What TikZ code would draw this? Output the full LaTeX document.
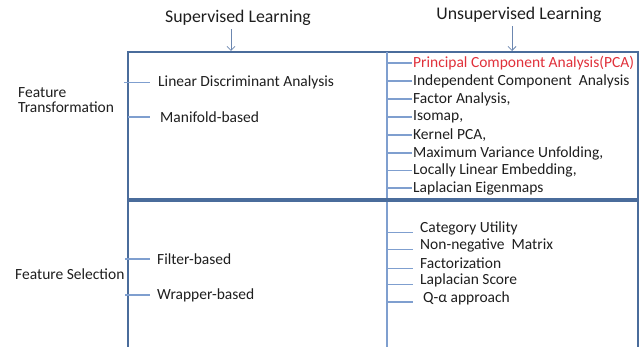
\documentclass[tikz,border=0pt]{standalone}
\usepackage{fontspec}
\setmainfont{Carlito}
\usetikzlibrary{positioning,arrows.meta}

\definecolor{frameblue}{HTML}{4A6C9B}
\definecolor{tickblue}{HTML}{7F9FCF}
\definecolor{itemred}{HTML}{E0303A}
\definecolor{itemgray}{HTML}{1E1E1E}

\begin{document}
\begin{tikzpicture}[
    x=1pt, y=-1pt,
    heading/.style={font=\fontsize{17.8}{20}\selectfont, text=itemgray},
    item/.style={anchor=west, inner sep=0pt, font=\fontsize{15.5}{15}\selectfont, text=itemgray},
    frame/.style={draw=frameblue, line width=2pt},
    divider/.style={draw=frameblue, line width=3.5pt},
    column/.style={draw=tickblue, line width=1.5pt},
    tick/.style={draw=tickblue, line width=1.3pt},
    arrow/.style={draw=tickblue!85!black, line width=0.8pt, -{Straight Barb[length=4pt,width=8pt]}}
]
\useasboundingbox (0,0) rectangle (640,347);

% Column headings
\node[heading] (sup) at (238,18) {Supervised Learning};
\node[heading] (unsup) at (519,15) {Unsupervised Learning};

% Frame and dividers
\coordinate (lcol) at (128,52);
\coordinate (rcol) at (387,52);
\coordinate (rframe) at (638,52);
\draw[frame] (128,347) -- (lcol) -- (rframe) -- (638,347);
\draw[column] (rcol) -- (387,347);
\draw[divider] (lcol |- 0,200) -- (rframe |- 0,200);

% Heading arrows
\coordinate (suptip) at (231,51);
\coordinate (unsuptip) at (512,51);
\draw[arrow] (sup.south -| suptip) -- (suptip);
\draw[arrow] (unsup.south -| unsuptip) -- (unsuptip);

% Row labels
\node[item, align=left] (ftrans) at (18,100.5) {Feature\\Transformation};
\node[item] (fsel) at (15,274) {Feature Selection};

% Supervised, transformation
\node[item] (lda) at (158,82.5) {Linear Discriminant Analysis};
\node[item] (manifold) at (160,117) {Manifold-based};

% Unsupervised, transformation
\node[item, text=itemred] (pca) at (413,63) {Principal Component Analysis(PCA)};
\node[item] (ica) at (413,81) {Independent Component\ \ Analysis};
\node[item] (fa) at (413,99) {Factor Analysis,};
\node[item] (isomap) at (413,117) {Isomap,};
\node[item] (kpca) at (413,135) {Kernel PCA,};
\node[item] (mvu) at (413,153) {Maximum Variance Unfolding,};
\node[item] (lle) at (413,170.5) {Locally Linear Embedding,};
\node[item] (lapeig) at (413,188) {Laplacian Eigenmaps};

% Supervised, selection
\node[item] (filter) at (157,259) {Filter-based};
\node[item] (wrapper) at (157,295) {Wrapper-based};

% Unsupervised, selection
\node[item] (cu) at (420,228.5) {Category Utility};
\node[item] (nmf) at (420,245.5) {Non-negative\ \ Matrix};
\node[item] (factor) at (420,263) {Factorization};
\node[item] (lapscore) at (420,280.5) {Laplacian Score};
\node[item] (qalpha) at (423,298) {Q-α approach};

% Ticks from the frame
\draw[tick, shorten <=-4pt] (lda.west -| lcol) -- ([xshift=-8pt]lda.west);
\draw[tick] (manifold.west -| lcol) -- ([xshift=-10pt]manifold.west);
\draw[tick, shorten <=-3pt] (filter.west -| lcol) -- ([xshift=-7pt]filter.west);
\draw[tick, shorten <=-3pt] (wrapper.west -| lcol) -- ([xshift=-7pt]wrapper.west);
\foreach \n in {pca,ica,fa,isomap,kpca,mvu,lle,lapeig}
  \draw[tick] (\n.west -| rcol) -- ([xshift=-1pt]\n.west);
\foreach \n in {cu,nmf,factor,lapscore}
  \draw[tick] (\n.base west -| rcol) -- ([xshift=-7pt]\n.base west);
\draw[tick] (qalpha.base west -| rcol) -- ([xshift=-10pt]qalpha.base west);

\end{tikzpicture}
\end{document}
